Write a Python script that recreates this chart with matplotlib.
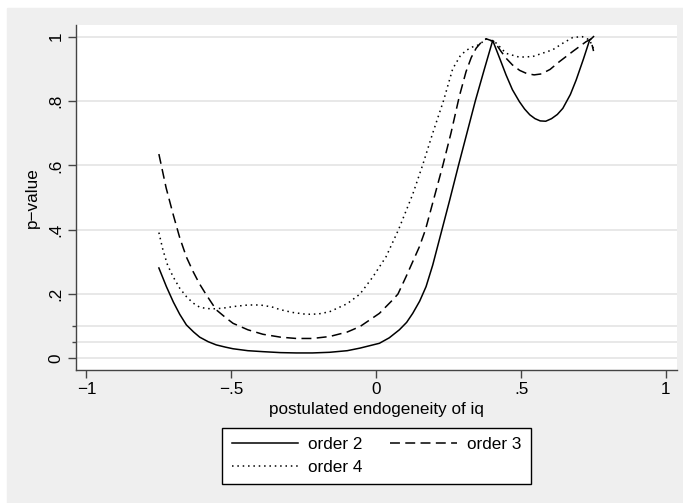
import matplotlib
matplotlib.use("Agg")
import matplotlib.pyplot as plt
from matplotlib.patches import Rectangle

plt.rcParams['font.family'] = ['Liberation Sans', 'DejaVu Sans']
plt.rcParams['font.size'] = 12.3

# values
x2 = [-0.75, -0.724, -0.70, -0.678, -0.655, -0.63, -0.609, -0.58, -0.552, -0.52,
      -0.494, -0.443, -0.391, -0.33, -0.276, -0.22, -0.161, -0.10, -0.056, 0.011,
      0.045, 0.080, 0.105, 0.126, 0.150, 0.172, 0.195, 0.224, 0.253, 0.284,
      0.313, 0.342, 0.372, 0.402, 0.425, 0.448, 0.47, 0.494, 0.512, 0.53,
      0.548, 0.566, 0.585, 0.605, 0.625, 0.644, 0.67, 0.69, 0.715, 0.736, 0.75]
p2 = [0.281, 0.223, 0.175, 0.137, 0.104, 0.082, 0.066, 0.052, 0.042, 0.035,
      0.030, 0.024, 0.021, 0.018, 0.017, 0.017, 0.019, 0.024, 0.032, 0.047,
      0.064, 0.089, 0.112, 0.140, 0.178, 0.223, 0.29, 0.39, 0.49, 0.60,
      0.70, 0.80, 0.895, 0.988, 0.935, 0.881, 0.835, 0.798, 0.775, 0.757,
      0.745, 0.738, 0.737, 0.745, 0.758, 0.777, 0.820, 0.865, 0.930, 0.988, 1.0]

x3 = [-0.75, -0.725, -0.70, -0.678, -0.655, -0.632, -0.61, -0.586, -0.552, -0.52,
      -0.494, -0.443, -0.391, -0.33, -0.276, -0.22, -0.161, -0.10, -0.056, 0.011,
      0.057, 0.075, 0.103, 0.149, 0.170, 0.200, 0.230, 0.258, 0.287, 0.310,
      0.328, 0.345, 0.365, 0.380, 0.408, 0.43, 0.448, 0.47, 0.495, 0.52,
      0.545, 0.57, 0.60, 0.632, 0.68, 0.724, 0.74, 0.75]
p3 = [0.635, 0.53, 0.445, 0.375, 0.315, 0.270, 0.232, 0.197, 0.151, 0.127,
      0.109, 0.089, 0.075, 0.066, 0.062, 0.062, 0.068, 0.082, 0.099, 0.140,
      0.182, 0.200, 0.254, 0.347, 0.40, 0.50, 0.60, 0.70, 0.815, 0.891,
      0.935, 0.964, 0.985, 0.993, 0.984, 0.955, 0.933, 0.912, 0.895, 0.885,
      0.881, 0.884, 0.898, 0.922, 0.955, 0.984, 0.992, 0.955]

x4 = [-0.75, -0.736, -0.72, -0.701, -0.678, -0.655, -0.632, -0.609, -0.585, -0.563,
      -0.53, -0.494, -0.443, -0.40, -0.36, -0.333, -0.29, -0.241, -0.20, -0.161,
      -0.10, -0.056, -0.011, 0.034, 0.077, 0.126, 0.160, 0.195, 0.232, 0.264,
      0.290, 0.310, 0.333, 0.356, 0.379, 0.39, 0.414, 0.448, 0.494, 0.540,
      0.609, 0.645, 0.678, 0.71, 0.736, 0.75]
p4 = [0.391, 0.337, 0.29, 0.254, 0.218, 0.192, 0.172, 0.159, 0.155, 0.154,
      0.156, 0.161, 0.166, 0.166, 0.160, 0.152, 0.143, 0.137, 0.138, 0.145,
      0.17, 0.200, 0.254, 0.316, 0.40, 0.51, 0.60, 0.70, 0.80, 0.90,
      0.94, 0.957, 0.968, 0.975, 0.993, 0.99, 0.98, 0.948, 0.936, 0.938,
      0.959, 0.980, 0.997, 1.0, 0.99, 0.962]

xticks = [-1, -0.5, 0, 0.5, 1]
xticklabels = ['\u22121', '\u2212.5', '0', '.5', '1']
yticks = [0, 0.2, 0.4, 0.6, 0.8, 1]
yticklabels = ['0', '.2', '.4', '.6', '.8', '1']
yminor = [0.05, 0.1]

W, H = 683, 503
fig = plt.figure(figsize=(W / 100, H / 100), dpi=100, facecolor='white')
bg = Rectangle((7 / W, 0), 1, 1 - 8 / H, transform=fig.transFigure,
               color='#efefef', zorder=-10)
fig.patches.append(bg)
ax = fig.add_axes([76 / W, 1 - 370 / H, (677 - 76) / W, (370 - 25) / H])
ax.set_facecolor('white')

l2, = ax.plot(x2, p2, color='black', lw=1.1, label='order 2')
l3, = ax.plot(x3, p3, color='black', lw=1.1, dashes=(6.5, 3.5), label='order 3')
l4, = ax.plot(x4, p4, color='black', lw=1.1, dashes=(1, 2.5), label='order 4')

ax.set_xlim(-1.036, 1.038)
ax.set_ylim(-0.036, 1.036)
ax.set_xticks(xticks)
ax.set_xticklabels(xticklabels)
ax.set_yticks(yticks)
ax.set_yticklabels(yticklabels, rotation=90, va='center')
ax.set_yticks(yminor, minor=True)
ax.grid(True, axis='y', which='both', color='#e4e4e4', lw=1.2, zorder=0)
ax.set_axisbelow(True)

for s in ['top', 'right']:
    ax.spines[s].set_visible(False)
for s in ['left', 'bottom']:
    ax.spines[s].set_color('#444444')
    ax.spines[s].set_linewidth(1.0)
ax.tick_params(axis='both', which='major', length=6, width=1.0, color='#444444', pad=3)
ax.tick_params(axis='y', which='minor', length=3, width=1.0, color='#444444')

ax.set_xlabel('postulated endogeneity of iq', labelpad=3)
ax.set_ylabel('p\u2212value', labelpad=6)

leg = ax.legend([l2, l4, l3], ['order 2', 'order 4', 'order 3'], ncol=2,
                loc='upper center', bbox_to_anchor=(0.5, -0.168),
                frameon=True, fancybox=False, edgecolor='black', framealpha=1,
                handlelength=3.9, handletextpad=0.6, columnspacing=1.6,
                labelspacing=0.42, borderpad=0.55, borderaxespad=0)
leg.get_frame().set_linewidth(1.0)

fig.savefig('out.png', dpi=100)
